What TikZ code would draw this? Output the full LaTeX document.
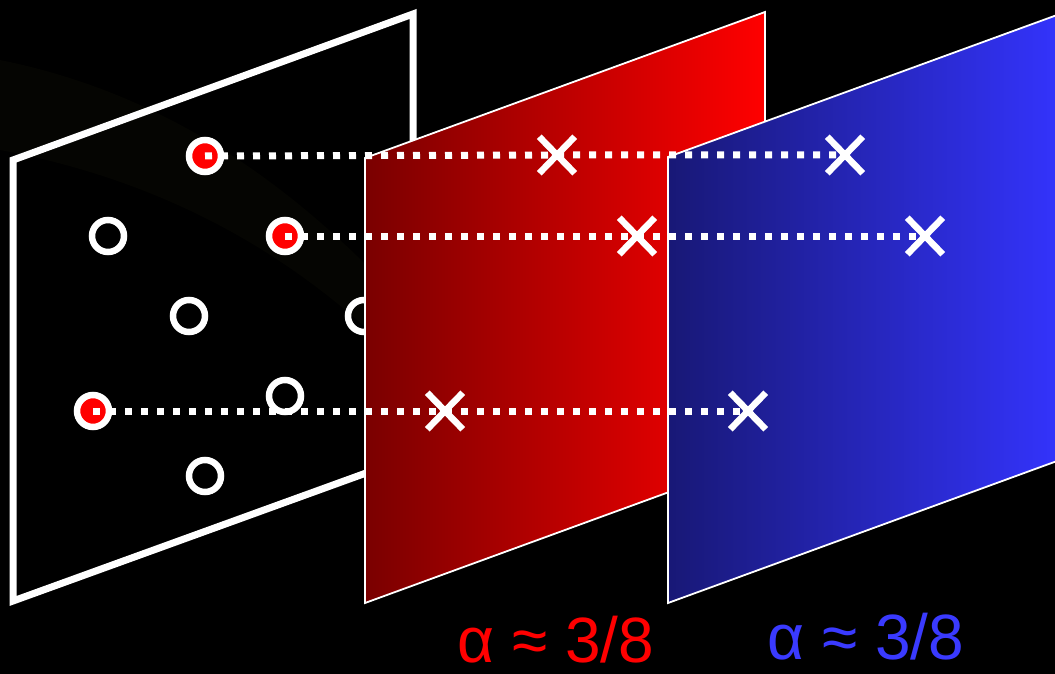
\documentclass[tikz,border=0pt]{standalone}
\usepackage{fontspec}
\setmainfont{Liberation Sans}
\usetikzlibrary{shapes.misc}
\definecolor{redL}{RGB}{122,0,0}
\definecolor{redR}{RGB}{255,0,0}
\definecolor{bluL}{RGB}{24,24,118}
\definecolor{bluR}{RGB}{52,52,255}
\definecolor{lblblue}{RGB}{58,58,255}
\definecolor{swoosh}{RGB}{5,5,2}
\tikzset{
  ring/.style={circle, draw=white, line width=6.5pt, minimum size=32pt, inner sep=0pt},
  hit/.style={ring, fill=red},
  miss/.style={ring},
  xmark/.style={cross out, draw=white, line width=6.5pt, minimum width=29pt, minimum height=30pt, inner sep=0pt},
  proj/.style={white, line width=7pt, dash pattern=on 7pt off 9pt},
  plane/.style={draw=white, line width=1.8pt},
  framebox/.style={draw=white, line width=7pt, line join=miter},
  lbl/.style={font=\fontsize{64}{70}\selectfont, anchor=base, inner sep=0pt}
}
\begin{document}
\begin{tikzpicture}[x=1pt,y=-1pt]
\fill[black] (0,0) rectangle (1055,674);
\clip (0,0) rectangle (1055,674);
% very faint background band
\fill[swoosh] (0,60) .. controls (150,90) and (280,170) .. (400,300)
  -- (400,360) .. controls (290,250) and (160,180) .. (0,150) -- cycle;
% input plane
\draw[framebox] (13,160) -- (413,14) -- (413,456) -- (13,601) -- cycle;
% sample points
\node[hit]  (p1) at (205,156) {};
\node[miss] (p2) at (108,236) {};
\node[hit]  (p3) at (285,236) {};
\node[miss] (p4) at (189,316) {};
\node[miss] (p5) at (364,316) {};
\node[hit]  (p6) at (93,411) {};
\node[miss] (p7) at (285,396) {};
\node[miss] (p8) at (205,476) {};
% projection planes
\shadedraw[plane, left color=redL, right color=redR]
  (365,158) -- (765,12) -- (765,457) -- (365,603) -- cycle;
\shadedraw[plane, left color=bluL, right color=bluR]
  (668,157) -- (1068,11) -- (1068,457) -- (668,603) -- cycle;
% projected points
\node[xmark] (r1) at (557,155) {};
\node[xmark] (b1) at (845,155) {};
\node[xmark] (r3) at (637,236) {};
\node[xmark] (b3) at (925,236) {};
\node[xmark] (r6) at (445,411) {};
\node[xmark] (b6) at (748,411) {};
% projection lines
\draw[proj] (p1.center) -- (r1.center) -- (b1.center);
\draw[proj] (p3.center) -- (r3.center) -- (b3.center);
\draw[proj] (p6.center) -- (r6.center) -- (b6.center);
% labels
\node[lbl, text=red] (lr) at (556,662) {α ≈ 3/8};
\node[lbl, text=lblblue] (lb) at (866,659) {α ≈ 3/8};
\end{tikzpicture}
\end{document}
